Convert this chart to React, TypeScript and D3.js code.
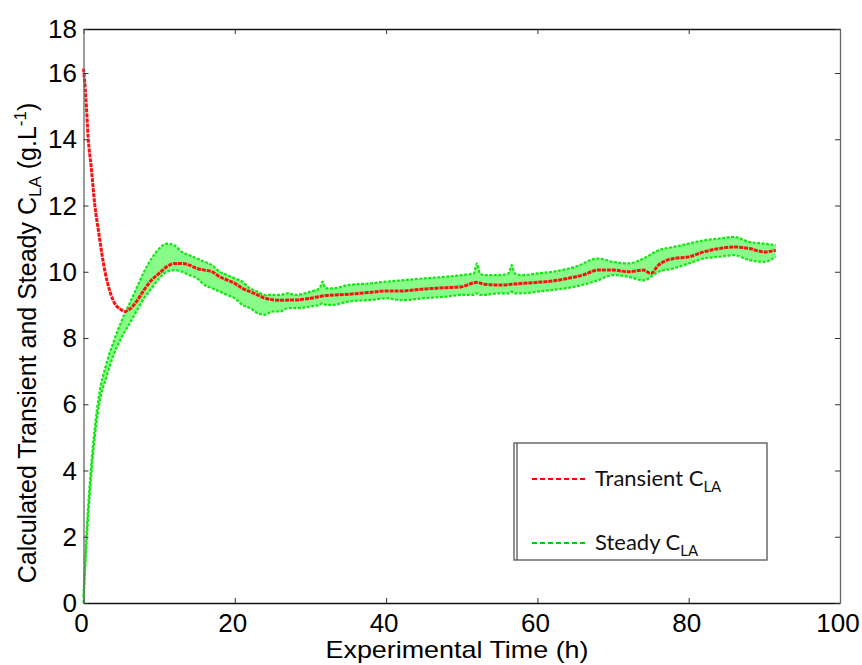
import React, { useRef, useEffect } from "react";
import * as d3 from "d3";

// transient C_LA (red)
const redT = [0, 0.3, 0.63, 1, 1.5, 2, 2.84, 3.5, 4, 5, 5.5, 6, 7, 8, 9, 10, 11, 12, 13, 14, 15, 16, 17, 18, 19, 20, 21, 22, 23, 24, 26, 28, 30, 32, 35, 38, 40, 42, 45, 48, 50, 52, 53, 55, 58, 60, 62, 64, 66, 68, 70, 72, 74, 75, 76, 78, 80, 82, 84, 86, 88, 90, 91.5];
const redV = [16.2, 15.3, 14.0, 13.2, 12.0, 11.2, 10.0, 9.4, 9.1, 8.85, 8.8, 8.85, 9.1, 9.45, 9.75, 9.95, 10.15, 10.25, 10.25, 10.2, 10.1, 10.05, 10.0, 9.85, 9.75, 9.65, 9.5, 9.4, 9.3, 9.2, 9.14, 9.15, 9.2, 9.28, 9.32, 9.38, 9.42, 9.42, 9.48, 9.52, 9.55, 9.68, 9.62, 9.6, 9.65, 9.68, 9.72, 9.8, 9.9, 10.05, 10.05, 10.0, 10.05, 9.95, 10.2, 10.4, 10.45, 10.6, 10.7, 10.75, 10.7, 10.6, 10.65];

// steady C_LA (green), lower and upper edge of the noisy band
const greenT = [0, 0.4, 1, 2, 3, 4, 5, 6, 7, 8, 9, 10, 11, 12, 13, 14, 15, 16, 17, 18, 19, 20, 21, 22, 23, 24, 25, 26, 27, 28, 30, 31.2, 31.6, 32, 33, 35, 38, 40, 42, 45, 48, 50, 51.6, 52, 52.4, 53, 55, 56.2, 56.6, 57, 58, 60, 62, 65, 68, 70, 72, 74, 76, 78, 80, 82, 84, 86, 88, 90, 91.5];
const greenLo = [0, 1.8, 3.8, 5.9, 6.8, 7.5, 8.0, 8.4, 8.8, 9.2, 9.5, 9.8, 10.0, 10.05, 10.0, 9.9, 9.8, 9.6, 9.5, 9.4, 9.3, 9.2, 9.0, 8.9, 8.75, 8.7, 8.8, 8.8, 8.9, 8.9, 8.95, 9.0, 9.05, 9.0, 9.0, 9.1, 9.15, 9.2, 9.14, 9.2, 9.25, 9.3, 9.3, 9.35, 9.3, 9.3, 9.35, 9.35, 9.4, 9.35, 9.35, 9.4, 9.45, 9.55, 9.74, 9.9, 9.85, 9.74, 10.0, 10.1, 10.25, 10.4, 10.45, 10.5, 10.35, 10.3, 10.45];
const greenHi = [0.2, 2.1, 4.1, 6.2, 7.2, 7.9, 8.5, 9.0, 9.5, 10.0, 10.4, 10.7, 10.85, 10.8, 10.6, 10.5, 10.4, 10.3, 10.2, 10.0, 9.9, 9.8, 9.7, 9.5, 9.4, 9.3, 9.3, 9.3, 9.35, 9.3, 9.4, 9.5, 9.7, 9.5, 9.5, 9.6, 9.65, 9.7, 9.74, 9.8, 9.85, 9.9, 9.95, 10.25, 9.95, 9.9, 9.9, 9.95, 10.2, 9.95, 9.9, 9.95, 10.0, 10.15, 10.4, 10.3, 10.25, 10.4, 10.65, 10.75, 10.85, 10.95, 11.0, 11.05, 10.9, 10.85, 10.8];

const xTicks = [0, 20, 40, 60, 80, 100];
const yTicks = [0, 2, 4, 6, 8, 10, 12, 14, 16, 18];

function App() {
  const ref = useRef<HTMLDivElement>(null);

  useEffect(() => {
    const W = 862, H = 665;
    const left = 83.5, right = 840, top = 29, bottom = 603;

    d3.select(ref.current).selectAll("*").remove();
    const svg = d3
      .select(ref.current)
      .append("svg")
      .attr("width", W)
      .attr("height", H)
      .style("position", "absolute")
      .style("left", "0px")
      .style("top", "0px")
      .style("background", "#fff");

    const x = d3.scaleLinear().domain([0, 100]).range([left, right]);
    // the top of the axis is squeezed in the picture: 16 sits at 73, 18 at the frame
    const y = d3.scaleLinear().domain([0, 16, 18]).range([bottom, 73, top]);

    const font = "Arial, 'Liberation Sans', sans-serif";

    // green band
    const green = greenT.map((t, i) => ({ t, lo: greenLo[i], hi: greenHi[i] }));
    svg
      .append("path")
      .datum(green)
      .attr("fill", "#6cfa6c")
      .attr("fill-opacity", 0.8)
      .attr(
        "d",
        d3
          .area<any>()
          .x((d) => x(d.t))
          .y0((d) => y(d.lo))
          .y1((d) => y(d.hi))
          .curve(d3.curveMonotoneX)
      );
    const edge = (key: "lo" | "hi") =>
      svg
        .append("path")
        .datum(green)
        .attr("fill", "none")
        .attr("stroke", "#14e614")
        .attr("stroke-width", 2.2)
        .attr("stroke-dasharray", "3,1.5")
        .attr(
          "d",
          d3
            .line<any>()
            .x((d) => x(d.t))
            .y((d) => y(d[key]))
            .curve(d3.curveMonotoneX)
        );
    edge("lo");
    edge("hi");

    // red line
    const red = redT.map((t, i) => ({ t, v: redV[i] }));
    svg
      .append("path")
      .datum(red)
      .attr("fill", "none")
      .attr("stroke", "#ff1010")
      .attr("stroke-width", 3)
      .attr("stroke-dasharray", "4,1")
      .attr(
        "d",
        d3
          .line<any>()
          .x((d) => x(d.t))
          .y((d) => y(d.v))
          .curve(d3.curveMonotoneX)
      );

    // frame + inward ticks on all sides
    const axes = [
      { a: d3.axisBottom(x).tickValues(xTicks), tr: `translate(0,${bottom})`, c: "#111" },
      { a: d3.axisTop(x).tickValues(xTicks), tr: `translate(0,${top})`, c: "#111" },
      { a: d3.axisLeft(y).tickValues(yTicks), tr: `translate(${left},0)`, c: "#666" },
      { a: d3.axisRight(y).tickValues(yTicks), tr: `translate(${right},0)`, c: "#666" },
    ];
    axes.forEach(({ a, tr, c }) => {
      const g = svg
        .append("g")
        .attr("transform", tr)
        .call(a.tickSizeInner(-5).tickSizeOuter(0).tickFormat(() => ""));
      g.select(".domain").attr("stroke", c).attr("stroke-width", 1.3);
      g.selectAll(".tick line").attr("stroke", "#333");
    });

    // tick labels
    svg
      .selectAll(".xl")
      .data(xTicks)
      .enter()
      .append("text")
      .attr("x", (d) => x(d) - 2)
      .attr("y", 632)
      .attr("text-anchor", "middle")
      .style("font-family", font)
      .style("font-size", "26px")
      .text((d) => d);
    svg
      .selectAll(".yl")
      .data(yTicks)
      .enter()
      .append("text")
      .attr("x", 77)
      .attr("y", (d) => y(d) + 9)
      .attr("text-anchor", "end")
      .style("font-family", font)
      .style("font-size", "26px")
      .text((d) => d);

    // axis titles
    svg
      .append("text")
      .attr("x", 457)
      .attr("y", 658)
      .attr("text-anchor", "middle")
      .attr("textLength", 263)
      .attr("lengthAdjust", "spacingAndGlyphs")
      .style("font-family", font)
      .style("font-size", "24px")
      .text("Experimental Time (h)");

    const yt = svg
      .append("text")
      .attr("transform", "translate(36,343) rotate(-90)")
      .attr("text-anchor", "middle")
      .style("font-family", font)
      .style("font-size", "25px");
    yt.append("tspan").text("Calculated Transient and Steady C");
    yt.append("tspan").attr("dy", 5).style("font-size", "17px").text("LA");
    yt.append("tspan").attr("dy", -5).text(" (g.L");
    yt.append("tspan").attr("dy", -10).style("font-size", "17px").text("-1");
    yt.append("tspan").attr("dy", 10).text(")");

    // legend
    const lg = svg.append("g");
    lg.append("rect")
      .attr("x", 514)
      .attr("y", 443)
      .attr("width", 253)
      .attr("height", 117)
      .attr("fill", "#fff")
      .attr("stroke", "#555")
      .attr("stroke-width", 1.3);
    lg.append("line")
      .attr("x1", 517)
      .attr("x2", 517)
      .attr("y1", 443)
      .attr("y2", 560)
      .attr("stroke", "#555")
      .attr("stroke-width", 1.3);
    const items = [
      { name: "Transient C", c: "#ff0000", yy: 479 },
      { name: "Steady C", c: "#00cc00", yy: 543 },
    ];
    items.forEach((it) => {
      lg.append("line")
        .attr("x1", 532)
        .attr("x2", 588)
        .attr("y1", it.yy)
        .attr("y2", it.yy)
        .attr("stroke", it.c)
        .attr("stroke-width", 2)
        .attr("stroke-dasharray", "5,3");
      const t = lg
        .append("text")
        .attr("x", 595)
        .attr("y", it.yy + 7)
        .style("font-family", "Lato, 'Open Sans', sans-serif")
        .style("font-size", "22px")
        .style("fill", "#111");
      t.append("tspan").text(it.name);
      t.append("tspan").attr("dy", 6).style("font-size", "15px").text("LA");
    });
  }, []);

  return <div ref={ref} style={{ width: "100%", height: "100%" }}></div>;
}

export default App;
